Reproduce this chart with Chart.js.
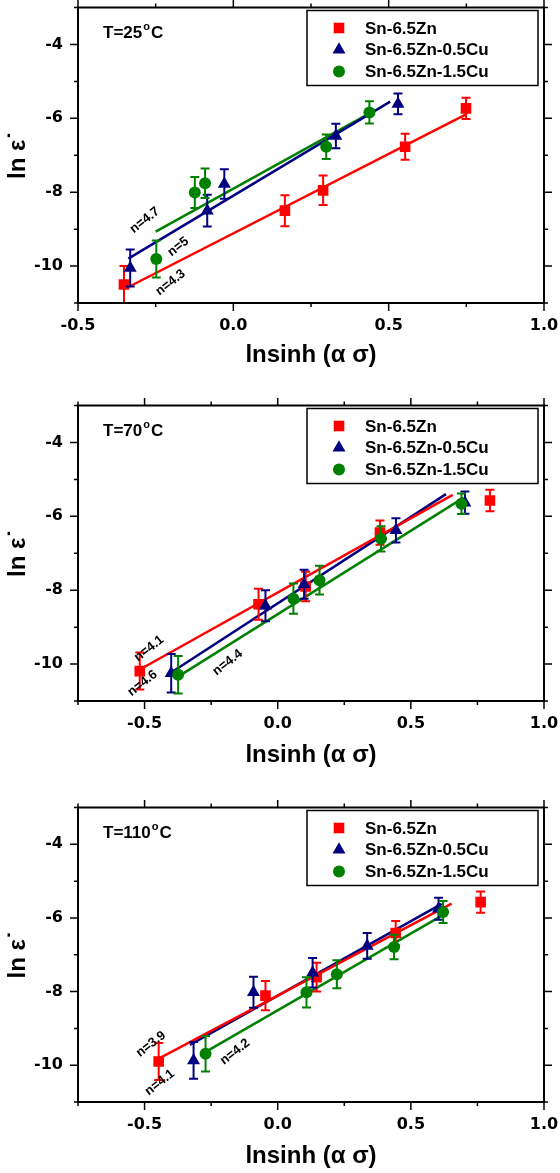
<!DOCTYPE html>
<html>
<head>
<meta charset="utf-8">
<script src="https://cdn.jsdelivr.net/npm/chart.js@4/dist/chart.umd.min.js"></script>
<style>
  body { margin: 0; background: #fff; }
  .panel { position: absolute; left: 0; width: 560px; }
</style>
</head>
<body>
<div class="panel" style="top:0px"><canvas id="g25" width="560" height="380"></canvas></div>
<div class="panel" style="top:398px"><canvas id="g70" width="560" height="380"></canvas></div>
<div class="panel" style="top:800px"><canvas id="g110" width="560" height="373"></canvas></div>
<script>
const seriesNames = ['Sn-6.5Zn', 'Sn-6.5Zn-0.5Cu', 'Sn-6.5Zn-1.5Cu'];
const seriesColors = ['#ff0000', '#000080', '#008000'];
const seriesStyles = ['rect', 'triangle', 'circle'];
const seriesRadius = [7.5, 7.5, 6];

const xTickValues = [-0.5, 0.0, 0.5, 1.0];
const yTickValues = [-10, -8, -6, -4];

// T = 25 C
const zn25X = [-0.352, 0.166, 0.289, 0.553, 0.749];
const zn25Y = [-10.50, -8.50, -7.95, -6.77, -5.73];
const zn25Err = [0.50, 0.42, 0.40, 0.35, 0.29];
const cu05_25X = [-0.332, -0.084, -0.029, 0.330, 0.530];
const cu05_25Y = [-10.05, -8.50, -7.78, -6.48, -5.61];
const cu05_25Err = [0.50, 0.43, 0.40, 0.33, 0.28];
const cu15_25X = [-0.248, -0.124, -0.091, 0.299, 0.438];
const cu15_25Y = [-9.81, -8.01, -7.76, -6.77, -5.84];
const cu15_25Err = [0.50, 0.42, 0.40, 0.33, 0.30];
const fitZn25 = { x: [-0.336, 0.752], y: [-10.56, -5.88] };
const fitCu05_25 = { x: [-0.338, 0.505], y: [-9.80, -5.55] };
const fitCu15_25 = { x: [-0.250, 0.453], y: [-9.07, -5.80] };
const notes25 = ['n=4.7', 'n=5', 'n=4.3'];
const notes25X = [-0.285, -0.177, -0.202];
const notes25Y = [-8.76, -9.48, -10.45];

// T = 70 C
const zn70X = [-0.518, -0.072, 0.105, 0.384, 0.797];
const zn70Y = [-10.19, -8.38, -7.90, -6.44, -5.57];
const zn70Err = [0.50, 0.42, 0.40, 0.33, 0.29];
const cu05_70X = [-0.400, -0.046, 0.099, 0.444, 0.703];
const cu05_70Y = [-10.25, -8.42, -7.84, -6.38, -5.63];
const cu05_70Err = [0.52, 0.42, 0.39, 0.33, 0.30];
const cu15_70X = [-0.374, 0.059, 0.157, 0.388, 0.690];
const cu15_70Y = [-10.29, -8.23, -7.73, -6.61, -5.66];
const cu15_70Err = [0.51, 0.41, 0.39, 0.34, 0.28];
const fitZn70 = { x: [-0.511, 0.657], y: [-10.12, -5.42] };
const fitCu05_70 = { x: [-0.400, 0.632], y: [-10.23, -5.40] };
const fitCu15_70 = { x: [-0.374, 0.697], y: [-10.34, -5.50] };
const notes70 = ['n=4.1', 'n=4.6', 'n=4.4'];
const notes70X = [-0.483, -0.508, -0.188];
const notes70Y = [-9.58, -10.52, -9.96];

// T = 110 C
const zn110X = [-0.447, -0.046, 0.146, 0.443, 0.762];
const zn110Y = [-9.90, -8.11, -7.61, -6.41, -5.57];
const zn110Err = [0.50, 0.40, 0.39, 0.33, 0.29];
const cu05_110X = [-0.316, -0.091, 0.131, 0.336, 0.604];
const cu05_110Y = [-9.87, -8.02, -7.49, -6.76, -5.75];
const cu05_110Err = [0.50, 0.42, 0.40, 0.35, 0.30];
const cu15_110X = [-0.271, 0.108, 0.222, 0.437, 0.621];
const cu15_110Y = [-9.69, -8.02, -7.53, -6.79, -5.84];
const cu15_110Err = [0.48, 0.41, 0.38, 0.33, 0.30];
const fitZn110 = { x: [-0.447, 0.653], y: [-9.82, -5.61] };
const fitCu05_110 = { x: [-0.330, 0.616], y: [-9.45, -5.62] };
const fitCu15_110 = { x: [-0.269, 0.628], y: [-9.63, -5.89] };
const notes110 = ['n=3.9', 'n=4.1', 'n=4.2'];
const notes110X = [-0.476, -0.443, -0.160];
const notes110Y = [-9.43, -10.47, -9.64];

const ARIAL = "'Liberation Sans', Arial, sans-serif";
const DEJAVU = "'DejaVu Sans', sans-serif";

const pts = (xs, ys) => xs.map((x, i) => ({ x: x, y: ys[i] }));

const errorBarPlugin = {
    id: 'errorBars',
    beforeDatasetDraw(chart, args) {
        const ds = chart.data.datasets[args.index];
        if (!ds.errors) return;
        const { ctx, chartArea: a, scales: { y } } = chart;
        ctx.save();
        ctx.beginPath();
        ctx.rect(a.left, a.top, a.right - a.left, a.bottom - a.top);
        ctx.clip();
        ctx.strokeStyle = ds.borderColor;
        ctx.lineWidth = 2;
        args.meta.data.forEach((pt, i) => {
            const v = ds.data[i].y;
            const e = ds.errors[i];
            const yTop = y.getPixelForValue(v + e);
            const yBot = y.getPixelForValue(v - e);
            ctx.beginPath();
            ctx.moveTo(pt.x, yTop); ctx.lineTo(pt.x, yBot);
            ctx.moveTo(pt.x - 4.5, yTop); ctx.lineTo(pt.x + 4.5, yTop);
            ctx.moveTo(pt.x - 4.5, yBot); ctx.lineTo(pt.x + 4.5, yBot);
            ctx.stroke();
        });
        ctx.restore();
    }
};

// box around the plot with major/minor tick marks on all four sides
const framePlugin = {
    id: 'frame',
    afterDraw(chart) {
        const { ctx, chartArea: a, scales: { x, y } } = chart;
        ctx.save();
        ctx.strokeStyle = '#000';
        ctx.lineWidth = 2;
        ctx.strokeRect(a.left, a.top, a.right - a.left, a.bottom - a.top);
        ctx.lineWidth = 1.5;
        ctx.beginPath();
        for (let v = x.min; v <= x.max + 1e-9; v += 0.25) {
            const major = Math.abs(v * 2 - Math.round(v * 2)) < 1e-6;
            const len = major ? 8 : 4;
            const px = x.getPixelForValue(v);
            ctx.moveTo(px, a.bottom); ctx.lineTo(px, a.bottom + len);
            ctx.moveTo(px, a.top); ctx.lineTo(px, a.top - len);
        }
        for (let v = y.min; v <= y.max; v += 1) {
            const len = v % 2 === 0 ? 8 : 4;
            const py = y.getPixelForValue(v);
            ctx.moveTo(a.left, py); ctx.lineTo(a.left - len, py);
            ctx.moveTo(a.right, py); ctx.lineTo(a.right + len, py);
        }
        ctx.stroke();
        ctx.restore();
    }
};

const panelTextPlugin = {
    id: 'panelText',
    afterDraw(chart, args, opts) {
        const { ctx, chartArea: a, scales: { x, y } } = chart;
        ctx.save();
        ctx.fillStyle = '#000';

        // temperature label
        let tx = a.left + 25;
        const ty = a.top + 30;
        ctx.textBaseline = 'alphabetic';
        ctx.textAlign = 'left';
        ctx.font = 'bold 17px ' + ARIAL;
        ctx.fillText('T=' + opts.temp, tx, ty);
        tx += ctx.measureText('T=' + opts.temp).width + 1;
        ctx.font = 'bold 11px ' + ARIAL;
        ctx.fillText('o', tx, ty - 8);
        tx += ctx.measureText('o').width + 1;
        ctx.font = 'bold 17px ' + ARIAL;
        ctx.fillText('C', tx, ty);

        // n = ... annotations
        ctx.font = 'bold 13px ' + ARIAL;
        ctx.textAlign = 'center';
        ctx.textBaseline = 'middle';
        opts.notes.forEach((t, i) => {
            ctx.save();
            ctx.translate(x.getPixelForValue(opts.notesX[i]), y.getPixelForValue(opts.notesY[i]));
            ctx.rotate(-38 * Math.PI / 180);
            ctx.fillText(t, 0, 0);
            ctx.restore();
        });

        // legend box
        const bw = 231, bh = 75;
        const bx = a.right - 6 - bw;
        const by = a.top + 3;
        ctx.fillStyle = '#fff';
        ctx.fillRect(bx, by, bw, bh);
        ctx.strokeStyle = '#000';
        ctx.lineWidth = 1.5;
        ctx.strokeRect(bx, by, bw, bh);
        ctx.font = 'bold 17px ' + ARIAL;
        ctx.textAlign = 'left';
        seriesNames.forEach((name, i) => {
            const ry = by + 17.5 + i * 21.7;
            ctx.fillStyle = seriesColors[i];
            ctx.strokeStyle = seriesColors[i];
            Chart.helpers.drawPoint(ctx, { pointStyle: seriesStyles[i], radius: seriesRadius[i], rotation: 0, borderWidth: 0 }, bx + 32, ry);
            ctx.fillStyle = '#000';
            ctx.fillText(name, bx + 58, ry + 1);
        });
        ctx.restore();
    }
};

function fitDataset(fit, i) {
    return {
        label: seriesNames[i] + ' fit',
        data: pts(fit.x, fit.y),
        showLine: true,
        borderColor: seriesColors[i],
        backgroundColor: seriesColors[i],
        borderWidth: 2.5,
        pointRadius: 0,
        order: 5
    };
}

function pointDataset(xs, ys, errs, i) {
    return {
        label: seriesNames[i],
        data: pts(xs, ys),
        errors: errs,
        pointStyle: seriesStyles[i],
        pointRadius: seriesRadius[i],
        backgroundColor: seriesColors[i],
        borderColor: seriesColors[i],
        borderWidth: 0,
        order: 3 - i
    };
}

// labels must not push the plot area inwards
function noScalePadding(s) {
    s.paddingTop = 0;
    s.paddingBottom = 0;
    s.paddingLeft = 0;
    s.paddingRight = 0;
}

function createPanel(id, cfg) {
    const ctx = document.getElementById(id).getContext('2d');
    const axisH = cfg.height - 6 - cfg.plotH;

    new Chart(ctx, {
        type: 'scatter',
        data: {
            datasets: [
                fitDataset(cfg.fits[0], 0),
                fitDataset(cfg.fits[1], 1),
                fitDataset(cfg.fits[2], 2),
                pointDataset(cfg.xs[0], cfg.ys[0], cfg.errs[0], 0),
                pointDataset(cfg.xs[1], cfg.ys[1], cfg.errs[1], 1),
                pointDataset(cfg.xs[2], cfg.ys[2], cfg.errs[2], 2)
            ]
        },
        options: {
            responsive: false,
            animation: false,
            events: [],
            devicePixelRatio: 1,
            layout: { padding: { top: 6, right: 16, left: 0, bottom: 0 } },
            plugins: {
                legend: { display: false },
                tooltip: { enabled: false },
                panelText: { temp: cfg.temp, notes: cfg.notes, notesX: cfg.notesX, notesY: cfg.notesY }
            },
            scales: {
                x: {
                    type: 'linear',
                    min: cfg.xMin,
                    max: 1.0,
                    grid: { display: false, drawTicks: false },
                    border: { display: false },
                    afterBuildTicks: s => { s.ticks = xTickValues.map(v => ({ value: v })); },
                    afterFit: s => { s.height = axisH; noScalePadding(s); },
                    ticks: {
                        padding: 13,
                        color: '#000',
                        maxRotation: 0,
                        font: { family: DEJAVU, size: 16, weight: 'bold' },
                        callback: v => Number(v).toFixed(1)
                    },
                    title: {
                        display: true,
                        text: 'lnsinh (α σ)',
                        color: '#000',
                        font: { family: ARIAL, size: 24, weight: 'bold' },
                        padding: { top: 0, bottom: cfg.titlePad }
                    }
                },
                y: {
                    type: 'linear',
                    min: -11,
                    max: -3,
                    grid: { display: false, drawTicks: false },
                    border: { display: false },
                    afterBuildTicks: s => { s.ticks = yTickValues.map(v => ({ value: v })); },
                    afterFit: s => { s.width = 78; noScalePadding(s); },
                    ticks: {
                        padding: 15,
                        color: '#000',
                        font: { family: DEJAVU, size: 16, weight: 'bold' },
                        callback: v => String(v)
                    },
                    title: {
                        display: true,
                        text: 'ln ε˙',
                        color: '#000',
                        font: { family: ARIAL, size: 24, weight: 'bold' },
                        padding: { top: 4, bottom: 0 }
                    }
                }
            }
        },
        plugins: [errorBarPlugin, framePlugin, panelTextPlugin]
    });
}

createPanel('g25', {
    height: 380, plotH: 297, xMin: -0.5, temp: '25', titlePad: 10,
    xs: [zn25X, cu05_25X, cu15_25X],
    ys: [zn25Y, cu05_25Y, cu15_25Y],
    errs: [zn25Err, cu05_25Err, cu15_25Err],
    fits: [fitZn25, fitCu05_25, fitCu15_25],
    notes: notes25, notesX: notes25X, notesY: notes25Y
});

createPanel('g70', {
    height: 380, plotH: 297, xMin: -0.75, temp: '70', titlePad: 8,
    xs: [zn70X, cu05_70X, cu15_70X],
    ys: [zn70Y, cu05_70Y, cu15_70Y],
    errs: [zn70Err, cu05_70Err, cu15_70Err],
    fits: [fitZn70, fitCu05_70, fitCu15_70],
    notes: notes70, notesX: notes70X, notesY: notes70Y
});

createPanel('g110', {
    height: 373, plotH: 296, xMin: -0.75, temp: '110', titlePad: 2,
    xs: [zn110X, cu05_110X, cu15_110X],
    ys: [zn110Y, cu05_110Y, cu15_110Y],
    errs: [zn110Err, cu05_110Err, cu15_110Err],
    fits: [fitZn110, fitCu05_110, fitCu15_110],
    notes: notes110, notesX: notes110X, notesY: notes110Y
});
</script>
</body>
</html>
